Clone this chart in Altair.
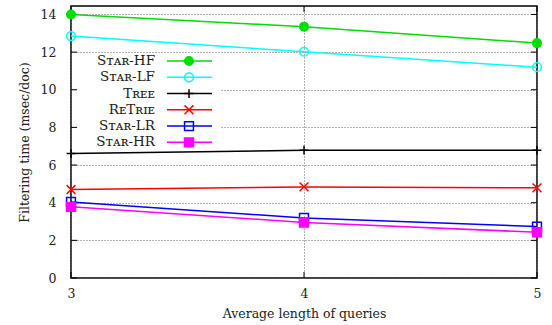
import altair as alt
import pandas as pd

# Filtering time per document vs. average query length
lengths = [3, 4, 5]
series_names = ["Sᴛᴀʀ-HF", "Sᴛᴀʀ-LF", "Tʀᴇᴇ", "RᴇTʀɪᴇ", "Sᴛᴀʀ-LR", "Sᴛᴀʀ-HR"]
star_hf = [14.0, 13.35, 12.48]
star_lf = [12.85, 12.02, 11.2]
tree = [6.61, 6.79, 6.79]
retrie = [4.70, 4.84, 4.79]
star_lr = [4.04, 3.19, 2.73]
star_hr = [3.78, 2.95, 2.43]
y_ticks = [0, 2, 4, 6, 8, 10, 12, 14]

series_values = [star_hf, star_lf, tree, retrie, star_lr, star_hr]
colors = ["#00dd00", "#00ffff", "#000000", "#ff0000", "#0000ff", "#ff00ff"]
plus_path = "M-1,0L1,0M0,-1L0,1"
cross_path = "M-1,-1L1,1M-1,1L1,-1"
shapes = ["circle", "circle", plus_path, cross_path, "square", "square"]
sizes = [75, 80, 110, 100, 90, 100]
filled_series = ["Sᴛᴀʀ-HF", "Sᴛᴀʀ-HR"]

rows = []
for name, vals in zip(series_names, series_values):
    for x, v in zip(lengths, vals):
        rows.append({"series": name, "length": x, "time": v})
df = pd.DataFrame(rows)

legend_df = pd.DataFrame({"series": series_names, "row": list(range(len(series_names)))})
ytick_df = pd.DataFrame({"time": y_ticks})
xtick_df = pd.DataFrame({"length": lengths})

FONT = "DejaVu Serif"
PLOT_W, PLOT_H = 466, 272
TICK = 6

color_scale = alt.Scale(domain=series_names, range=colors)
shape_scale = alt.Scale(domain=series_names, range=shapes)
size_scale = alt.Scale(domain=series_names, range=sizes)

x_scale = alt.Scale(domain=[3, 5], nice=False, zero=False)
y_scale = alt.Scale(domain=[0, 14.45], nice=False)

x_enc = alt.X(
    "length:Q", scale=x_scale,
    axis=alt.Axis(values=lengths, tickCount=3, labelExpr="format(datum.value, 'd')",
                  title="Average length of queries",
                  titlePadding=8, labelPadding=9, labelFlush=False, labelOverlap=False),
)
y_enc = alt.Y(
    "time:Q", scale=y_scale,
    axis=alt.Axis(values=y_ticks, tickCount=50, format="d",
                  title="Filtering time (msec/doc)",
                  titlePadding=9, labelPadding=15, labelFlush=False, labelOverlap=False),
)

color_enc = alt.Color("series:N", scale=color_scale, legend=None)
shape_enc = alt.Shape("series:N", scale=shape_scale, legend=None)
size_enc = alt.Size("series:N", scale=size_scale, legend=None)

base = alt.Chart(df)

lines = base.mark_line(strokeWidth=1.5, clip=False).encode(
    x=x_enc, y=y_enc, color=color_enc, detail="series:N",
)
points_open = base.mark_point(filled=False, strokeWidth=1.5, opacity=1, clip=False).encode(
    x=x_enc, y=y_enc, color=color_enc, shape=shape_enc, size=size_enc,
)
points_filled = base.transform_filter(
    alt.FieldOneOfPredicate(field="series", oneOf=filled_series)
).mark_point(filled=True, opacity=1, clip=False).encode(
    x=x_enc, y=y_enc, color=color_enc, shape=shape_enc, size=size_enc,
)

# Inward tick stubs on all four sides of the frame
ytick_left = alt.Chart(ytick_df).mark_rule(color="black", strokeWidth=1).encode(
    y=alt.Y("time:Q", scale=y_scale), x=alt.value(0), x2=alt.value(TICK)
)
ytick_right = alt.Chart(ytick_df).mark_rule(color="black", strokeWidth=1).encode(
    y=alt.Y("time:Q", scale=y_scale), x=alt.value(PLOT_W - TICK), x2=alt.value(PLOT_W)
)
xtick_bottom = alt.Chart(xtick_df).mark_rule(color="black", strokeWidth=1).encode(
    x=alt.X("length:Q", scale=x_scale), y=alt.value(PLOT_H - TICK), y2=alt.value(PLOT_H)
)
xtick_top = alt.Chart(xtick_df).mark_rule(color="black", strokeWidth=1).encode(
    x=alt.X("length:Q", scale=x_scale), y=alt.value(0), y2=alt.value(TICK)
)

# Legend block inside the plot: labels on the left, line sample with marker on the right
leg = alt.Chart(legend_df).transform_calculate(ypx="55 + datum.row * 16.27")
leg_bg = alt.Chart(legend_df).transform_filter("datum.row == 0").mark_rect(
    fill="white"
).encode(x=alt.value(1), x2=alt.value(150), y=alt.value(47), y2=alt.value(144))
leg_text = leg.mark_text(align="right", baseline="middle", font=FONT, fontSize=13.5,
                         color="#222").encode(
    x=alt.value(84), y=alt.Y("ypx:Q", scale=None), text="series:N"
)
leg_line = leg.mark_rule(strokeWidth=1.5).encode(
    x=alt.value(96), x2=alt.value(141), y=alt.Y("ypx:Q", scale=None), color=color_enc,
)
leg_open = leg.mark_point(filled=False, strokeWidth=1.5, opacity=1).encode(
    x=alt.value(118), y=alt.Y("ypx:Q", scale=None),
    color=color_enc, shape=shape_enc, size=size_enc,
)
leg_filled = leg.transform_filter(
    alt.FieldOneOfPredicate(field="series", oneOf=filled_series)
).mark_point(filled=True, opacity=1).encode(
    x=alt.value(118), y=alt.Y("ypx:Q", scale=None),
    color=color_enc, shape=shape_enc, size=size_enc,
)

chart = alt.layer(
    leg_bg, ytick_left, ytick_right, xtick_bottom, xtick_top,
    lines, points_open, points_filled, leg_line, leg_open, leg_filled, leg_text
).properties(
    width=PLOT_W, height=PLOT_H,
    autosize=alt.AutoSizeParams(type="none"),
    padding={"left": 71, "top": 6, "right": 15, "bottom": 47},
).configure_view(
    stroke="black", strokeWidth=1.5
).configure_axis(
    labelFont=FONT, titleFont=FONT, labelFontSize=12.5, titleFontSize=12.5,
    titleFontWeight="normal", labelColor="#222", titleColor="#222",
    ticks=False, domain=False,
    grid=True, gridColor="#666", gridDash=[1, 2], gridWidth=1,
)

chart.save("out.html", embed_options={"renderer": "svg", "actions": False})
